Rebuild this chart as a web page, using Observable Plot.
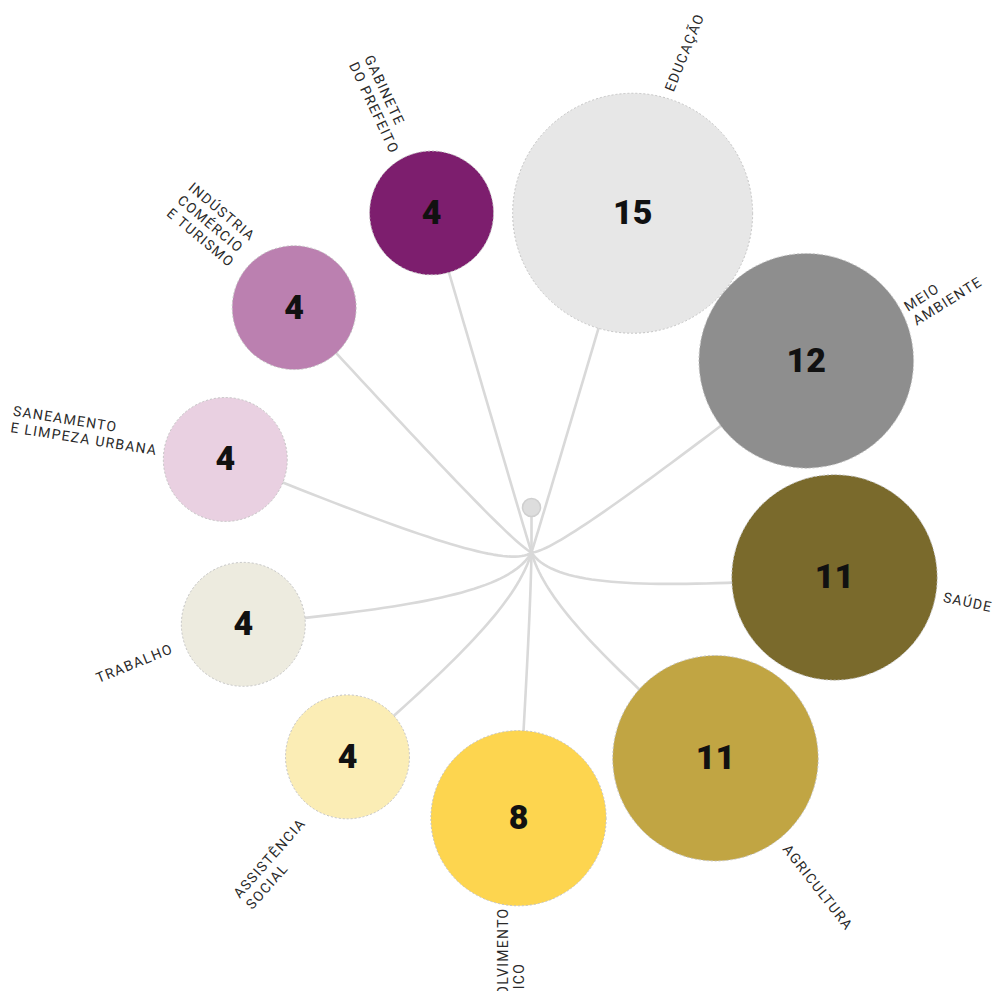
<!DOCTYPE html>
<html>
<head>
<meta charset="utf-8">
<script src="https://cdn.jsdelivr.net/npm/d3@7"></script>
<script src="https://cdn.jsdelivr.net/npm/@observablehq/plot@0.6"></script>
<style>
  html, body { margin: 0; padding: 0; background: #fff; }
  #chart svg { display: block; }
</style>
</head>
<body>
<div id="chart"></div>
<script>
// ---- data ----
const categories = ["Gabinete do Prefeito", "Educação", "Meio Ambiente", "Saúde", "Agricultura",
  "Desenvolvimento Econômico", "Assistência Social", "Trabalho", "Saneamento e Limpeza Urbana",
  "Indústria, Comércio e Turismo"];
const values = [4, 15, 12, 11, 11, 8, 4, 4, 4, 4];
const labels = ["GABINETE\nDO PREFEITO", "EDUCAÇÃO", "MEIO\nAMBIENTE", "SAÚDE", "AGRICULTURA",
  "DESENVOLVIMENTO\nECONÔMICO", "ASSISTÊNCIA\nSOCIAL", "TRABALHO", "SANEAMENTO\nE LIMPEZA URBANA",
  "INDÚSTRIA\nCOMÉRCIO\nE TURISMO"];
const colors = ["#7d1e6e", "#e7e7e7", "#8e8e8e", "#7a6a2c", "#c1a543", "#fdd54f", "#fbedb5",
  "#edebdf", "#e9d0e1", "#bb80b0"];

// ---- layout (polar placement around the hub, in px) ----
const angle = [-16.4, 16.6, 55.1, 94.7, 138.2, 182.8, 222.0, 256.0, 286.9, 315.9]; // deg clockwise from north
const dist = [354, 354, 335, 304, 276, 266, 275, 297, 320, 341];
const labelRotate = [65, -68, -32, 12, 52, -90, -48.6, -22, 9, 40];
const labelAt = [-114, -73.7, -24.3, 9.9, 51.1, 95, 119.5, 162, 195, -131.8];
const labelGap = [8, 8, 6, 8, 10, 2, 17, 13, 7, 14];
const labelEnd = [true, false, false, false, false, true, true, true, true, true];
const stemLength = 45;
const rMax = 120;
const fontSize = 14, letterSpacing = 1.3, fontFamily = "Roboto, 'Noto Sans', sans-serif";

const rad = d => d * Math.PI / 180;
const rScale = d3.scaleSqrt().domain([0, 15]).range([0, rMax]);

// measure label line widths with a hidden svg text in the same font
const msvg = d3.select("body").append("svg")
  .attr("width", 10).attr("height", 10).style("position", "absolute").style("left", "-9999px");
const mtext = msvg.append("text").attr("font-family", fontFamily).attr("font-size", fontSize)
  .style("letter-spacing", letterSpacing + "px");
const textWidth = s => { mtext.text(s); return mtext.node().getComputedTextLength(); };

const nodes = categories.map((name, i) => {
  const x = dist[i] * Math.sin(rad(angle[i]));
  const y = -dist[i] * Math.cos(rad(angle[i]));
  const r = rScale(values[i]);
  const ax = x + (r + labelGap[i]) * Math.cos(rad(labelAt[i]));
  const ay = y + (r + labelGap[i]) * Math.sin(rad(labelAt[i]));
  const w = d3.max(labels[i].split("\n"), textWidth);
  const lx = labelEnd[i] ? ax - w * Math.cos(rad(labelRotate[i])) : ax;
  const ly = labelEnd[i] ? ay - w * Math.sin(rad(labelRotate[i])) : ay;
  return {name, value: values[i], label: labels[i], color: colors[i], x, y, lx, ly, rot: labelRotate[i]};
});
msvg.remove();

// curved links from the hub to each bubble
const linkPoints = [];
for (const n of nodes) {
  const len = Math.hypot(n.x, n.y);
  const w = Math.max(0, Math.min(1, n.y / len + 1));
  const P = [[0, 0], [0.08 * n.x, 0.08 * n.y + 35 * w], [0.42 * n.x, 0.42 * n.y + 25 * w], [n.x, n.y]];
  for (let k = 0; k <= 40; k++) {
    const t = k / 40, u = 1 - t;
    const b = [u*u*u, 3*u*u*t, 3*u*t*t, t*t*t];
    linkPoints.push({name: n.name,
      x: b[0]*P[0][0] + b[1]*P[1][0] + b[2]*P[2][0] + b[3]*P[3][0],
      y: b[0]*P[0][1] + b[1]*P[1][1] + b[2]*P[2][1] + b[3]*P[3][1]});
  }
}

const chart = Plot.plot({
  width: 995,
  height: 991,
  margin: 0,
  style: {background: "#fff", fontFamily},
  x: {domain: [-531, 464], range: [0, 995], axis: null},
  y: {domain: [-552, 439], range: [0, 991], axis: null},
  r: {domain: [0, 15], range: [0, rMax]},
  marks: [
    Plot.line(linkPoints, {x: "x", y: "y", z: "name", stroke: "#d9d9d9", strokeWidth: 2.6}),
    Plot.link([{}], {x1: 0, y1: 0, x2: 0, y2: -stemLength, stroke: "#d9d9d9", strokeWidth: 2.6}),
    Plot.dot([{}], {x: 0, y: -stemLength, r: 9, fill: "#dddddd", stroke: "#cfcfcf"}),
    Plot.dot(nodes, {x: "x", y: "y", r: "value", fill: "color", stroke: "#c4c4c4",
      strokeWidth: 1, strokeDasharray: "2,2"}),
    Plot.text(nodes, {x: "x", y: "y", text: d => String(d.value), fontSize: 34, fontWeight: 900,
      fill: "#111", fontFamily: "Roboto, sans-serif"}),
    Plot.text(nodes, {x: "lx", y: "ly", text: "label", rotate: "rot", textAnchor: "start",
      lineAnchor: "middle", lineHeight: 1.2, fontSize, fill: "#2a2a2a", fontFamily})
  ]
});
const textGroups = chart.querySelectorAll('g[aria-label="text"]');
textGroups[textGroups.length - 1].style.letterSpacing = letterSpacing + "px";
document.getElementById("chart").append(chart);
</script>
</body>
</html>
